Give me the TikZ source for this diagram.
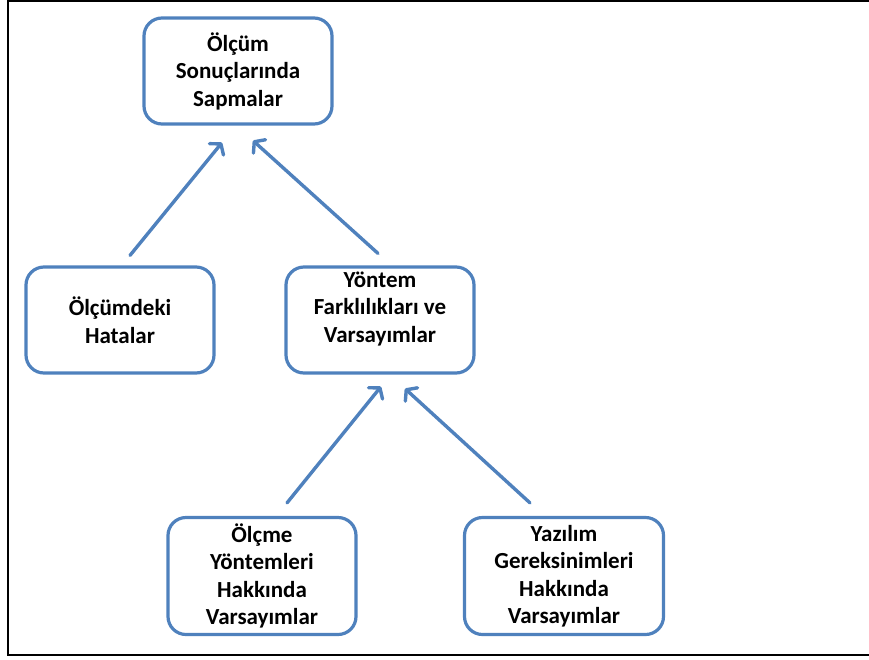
\documentclass[tikz,border=0pt]{standalone}
\usepackage{fontspec}
\setmainfont{Carlito}
\usetikzlibrary{arrows.meta}
\definecolor{boxblue}{RGB}{79,129,189}
\tikzset{
    box/.style = {
        draw = boxblue,
        line width = 3.2pt,
        rounded corners = 18pt,
        align = center,
        inner sep = 0pt,
        font = \bfseries\fontsize{23}{27.5}\selectfont,
        },
    box small/.style = {
        box,
        minimum width = 188pt,
        minimum height = 106pt,
        },
    box tall/.style = {
        box,
        minimum height = 117pt,
        },
    box text/.style = {
        align = center,
        inner sep = 0pt,
        font = \bfseries\fontsize{23}{27.5}\selectfont,
        },
    up arrow/.style = {
        draw = boxblue,
        line width = 3.4pt,
        line cap = round,
        -{Straight Barb[length=7pt, width=18pt, line cap=round, line join=round]},
        },
    frame/.style = {
        line width = 2pt,
        },
}
\begin{document}
\begin{tikzpicture}[x=1pt, y=-1pt]
    \useasboundingbox (0,0) rectangle (869,659);
    \draw [frame] (869,1) -- (8,1) -- (8,655) -- (869,655);

    \node [box small] (sapmalar) at (238,71) {Ölçüm\\Sonuçlarında\\Sapmalar};
    \node [box small] (hatalar) at (120,320) {Ölçümdeki\\Hatalar};
    \node [box small] (yontem) at (380,320) {};
    \node [box text] (yontemtext) at ([yshift=11pt]yontem.center) {Yöntem\\Farklılıkları ve\\Varsayımlar};
    \node [box tall, minimum width=188pt] (olcme) at (262,576) {Ölçme\\Yöntemleri\\Hakkında\\Varsayımlar};
    \node [box tall, minimum width=199pt] (yazilim) at (564,576) {Yazılım\\Gereksinimleri\\Hakkında\\Varsayımlar};

    \draw [up arrow] ([shift={(10,-10)}]hatalar.north) -- ([shift={(-16,17)}]sapmalar.south);
    \draw [up arrow] ([shift={(-2,-12)}]yontem.north) -- ([shift={(15,15)}]sapmalar.south);
    \draw [up arrow] ([shift={(25,-13)}]olcme.north) -- ([shift={(1,12)}]yontem.south);
    \draw [up arrow] ([shift={(-34,-13)}]yazilim.north) -- ([shift={(25,14)}]yontem.south);
\end{tikzpicture}
\end{document}
